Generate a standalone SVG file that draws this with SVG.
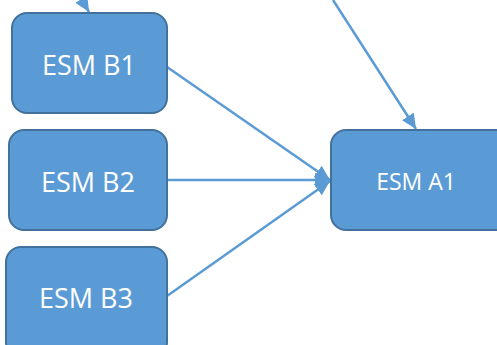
<svg xmlns="http://www.w3.org/2000/svg" width="497" height="345" viewBox="0 0 497 345">
<style>
.box{fill:#5B9BD5;stroke:#41719C;stroke-width:2}
.lbl{fill:#fff;font-family:"Open Sans","Liberation Sans",sans-serif;text-anchor:middle;dominant-baseline:central}
.con{stroke:#5B9BD5;stroke-width:2.5;fill:none;marker-end:url(#ah)}
</style>
<defs>
<marker id="ah" markerUnits="userSpaceOnUse" markerWidth="16" markerHeight="16" viewBox="0 0 16 16" refX="15" refY="8" orient="auto">
<path d="M0,1 L15,8 L0,15 Z" fill="#5B9BD5"/>
</marker>
</defs>
<g id="connectors">
<line class="con" x1="70" y1="-20" x2="89" y2="12"/>
<line class="con" x1="333" y1="0" x2="416" y2="129"/>
<line class="con" x1="167" y1="67" x2="330" y2="180"/>
<line class="con" x1="167" y1="180" x2="330" y2="180"/>
<line class="con" x1="167" y1="296" x2="330" y2="181"/>
</g>
<g id="b1"><rect class="box" x="12" y="13" width="155" height="100" rx="15"/><text class="lbl" x="89" y="64" font-size="27">ESM B1</text></g>
<g id="b2"><rect class="box" x="9" y="130" width="158" height="100" rx="15"/><text class="lbl" x="88" y="181" font-size="27">ESM B2</text></g>
<g id="b3"><rect class="box" x="6" y="247" width="161" height="110" rx="15"/><text class="lbl" x="86" y="297" font-size="27">ESM B3</text></g>
<g id="a1"><rect class="box" x="331" y="130" width="180" height="100" rx="15"/><text class="lbl" x="416" y="181" font-size="23">ESM A1</text></g>
</svg>
